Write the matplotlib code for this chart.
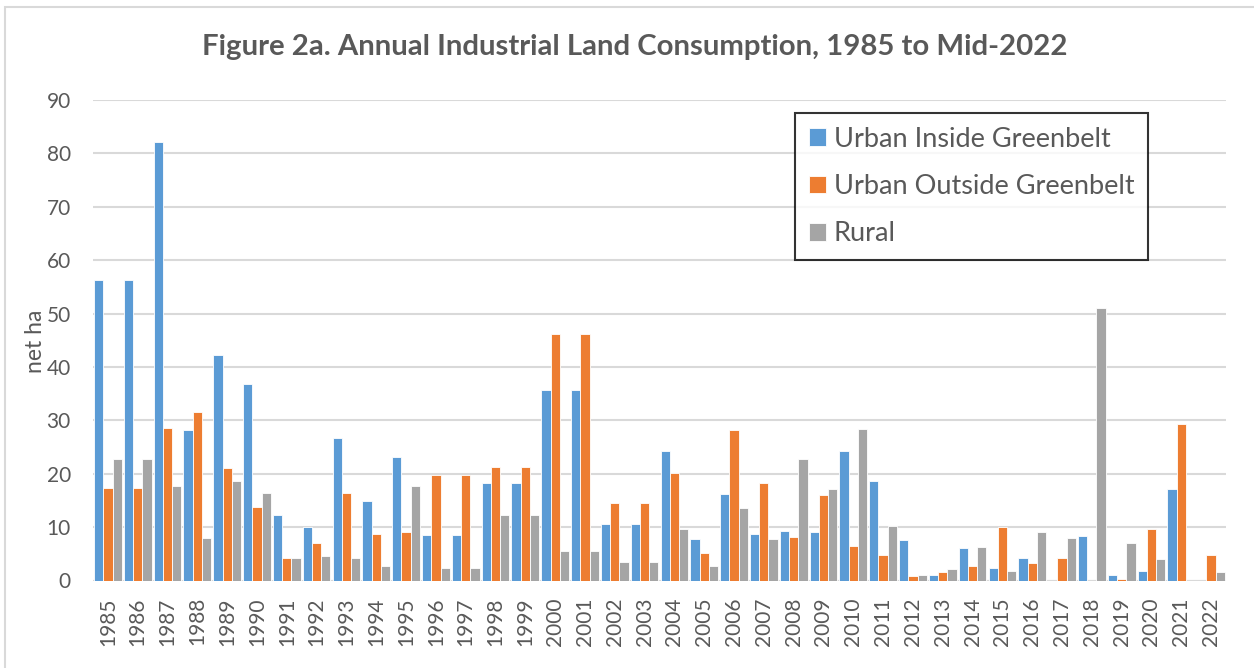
import numpy as np
import matplotlib
matplotlib.use("Agg")
import matplotlib.pyplot as plt
from matplotlib.patches import Rectangle

years = [str(y) for y in range(1985, 2023)]
urban_inside = [56.3, 56.3, 82.2, 28.2, 42.2, 36.8, 12.2, 10.0, 26.7, 14.9,
                23.1, 8.5, 8.5, 18.2, 18.2, 35.6, 35.6, 10.5, 10.5, 24.2,
                7.7, 16.2, 8.8, 9.2, 9.0, 24.2, 18.6, 7.5, 1.0, 6.0,
                2.4, 4.3, 0.0, 8.4, 1.0, 1.7, 17.2, 0.0]
urban_outside = [17.3, 17.3, 28.6, 31.6, 21.0, 13.7, 4.2, 7.0, 16.4, 8.8,
                 9.0, 19.7, 19.7, 21.3, 21.3, 46.1, 46.1, 14.6, 14.6, 20.2,
                 5.1, 28.2, 18.2, 8.2, 16.1, 6.4, 4.7, 0.8, 1.6, 2.7,
                 10.1, 3.3, 4.3, 0.0, 0.3, 9.6, 29.3, 4.8]
rural = [22.8, 22.8, 17.7, 8.0, 18.6, 16.4, 4.3, 4.6, 4.3, 2.8,
         17.7, 2.4, 2.4, 12.2, 12.2, 5.5, 5.5, 3.5, 3.5, 9.7,
         2.8, 13.6, 7.7, 22.7, 17.2, 28.4, 10.2, 1.1, 2.2, 6.3,
         1.8, 9.0, 8.0, 51.0, 7.1, 4.1, 0.0, 1.5]
series_names = ["Urban Inside Greenbelt", "Urban Outside Greenbelt", "Rural"]
colors = ["#5B9BD5", "#ED7D31", "#A5A5A5"]

plt.rcParams['font.family'] = ['Lato', 'DejaVu Sans']
W, H = 1254, 668
fig = plt.figure(figsize=(W / 100, H / 100), dpi=100)
fig.patch.set_facecolor("white")
# outer chart border
fig.add_artist(Rectangle((5 / W, -0.01), 1.1, 1 - 7 / H + 0.01, transform=fig.transFigure,
                         fill=False, edgecolor="#D9D9D9", linewidth=1.5))

ax = fig.add_axes([93 / W, 1 - 580.5 / H, (1226 - 93) / W, (580.5 - 100) / H])
x = np.arange(len(years))
bw = 0.31
for i, (vals, c, name) in enumerate(zip([urban_inside, urban_outside, rural], colors, series_names)):
    ax.bar(x + (i - 1) * bw, vals, width=bw, color=c, edgecolor="white", linewidth=0.6,
           label=name, zorder=3)

ax.set_xlim(-0.5, len(years) - 0.5)
ax.set_ylim(0, 90)
ax.set_yticks(range(0, 91, 10))
ax.set_xticks(x)
ax.set_xticklabels(years, rotation=90)
ax.grid(axis="y", color="#D9D9D9", linewidth=1.5, zorder=0)
for s in ax.spines.values():
    s.set_visible(False)
ax.axhline(0, color="#D9D9D9", linewidth=1.5, zorder=2)
ax.tick_params(axis="both", length=0, colors="#595959")
ax.tick_params(axis="y", labelsize=15, pad=16)
ax.tick_params(axis="x", labelsize=15, pad=12)

fig.text(35 / W, 1 - 341 / H, "net ha", rotation=90, ha="center", va="center",
         fontsize=16.5, color="#595959")

fig.text(0.506, 1 - 47 / H, "Figure 2a. Annual Industrial Land Consumption, 1985 to Mid-2022",
         ha="center", va="center", fontsize=21.2, fontweight="bold", color="#595959")

leg = ax.legend(loc="upper left", bbox_to_anchor=((795 - 93) / (1226 - 93), 1 - (113 - 100) / 480.5),
                fontsize=19.5, frameon=True, fancybox=False, edgecolor="black",
                handlelength=0.63, handleheight=0.63, handletextpad=0.3, labelspacing=0.83,
                borderpad=0.5, borderaxespad=0)
leg.get_frame().set_linewidth(1.5)
for t in leg.get_texts():
    t.set_color("#595959")

fig.savefig("out.png", dpi=100, facecolor="white")
